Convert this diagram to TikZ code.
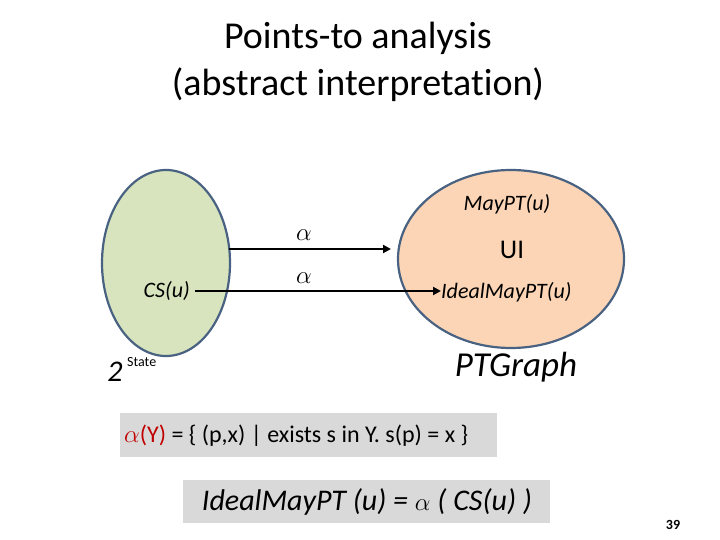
\documentclass[tikz,border=0pt]{standalone}
\usepackage{fontspec}
\setmainfont{Carlito}[Ligatures=NoCommon]
\newfontfamily\hand{Carlito}[Ligatures=NoCommon]
\usetikzlibrary{shapes.geometric,arrows.meta}
\definecolor{greenfill}{HTML}{D7E4BD}
\definecolor{orangefill}{HTML}{FBD5B5}
\definecolor{edgeblue}{HTML}{4A6282}
\definecolor{boxgray}{HTML}{D9D9D9}
\definecolor{alphared}{HTML}{C00000}
\tikzset{
  setshape/.style={ellipse, draw=edgeblue, line width=2.2pt, inner sep=0pt},
  conn/.style={line width=2.6pt, -{Triangle[length=8pt,width=8pt]}},
  handtxt/.style={font=\hand\itshape\fontsize{22}{24}\selectfont, inner sep=0pt},
  graybox/.style={fill=boxgray, inner sep=0pt, anchor=north west},
}
\begin{document}
\begin{tikzpicture}[x=1pt,y=-1pt]
\useasboundingbox (0,0) rectangle (720,540);
% title
\node (title) at (358,62) [align=center, font=\fontsize{38}{47}\selectfont] {Points-to analysis\\(abstract interpretation)};
% ellipses
\node (green) [setshape, fill=greenfill, minimum width=128pt, minimum height=186pt] at (166,263) {};
\node (orange) [setshape, fill=orangefill, minimum width=226pt, minimum height=178pt] at (511,259) {};
% texts
\node (cs) [handtxt, anchor=east] at (190,291) {CS(u)};
\node (may) [handtxt] at (507,204) {MayPT(u)};
\node (sub) [inner sep=0pt, font=\fontsize{27}{28}\selectfont] at (512,250) {UI};
\node (ideal) [handtxt, anchor=west] at (441,292) {IdealMayPT(u)};
\node (two) [inner sep=0pt, font=\hand\itshape\fontsize{30}{30}\selectfont] at (115,372) {2};
\node (state) [inner sep=0pt, anchor=west, font=\fontsize{14}{14}\selectfont] at (127,362) {State};
\node (ptg) [inner sep=0pt, font=\hand\itshape\fontsize{35}{35}\selectfont] at (516,367) {PTGraph};
% alphas
\node (a1) [inner sep=0pt, font=\fontsize{28}{28}\selectfont] at (304,235) {$\alpha$};
\node (a2) [inner sep=0pt, font=\fontsize{28}{28}\selectfont] at (304,278) {$\alpha$};
% arrows
\coordinate (t1) at (229,249);
\coordinate (t2) at (391,249);
\draw[conn] (t1) -- (t2);
\draw[conn] (cs.east) ++(5pt,0) coordinate (c1) -- (ideal.west |- c1) coordinate (c2);
% gray boxes
\node (box1) [graybox, minimum width=377pt, minimum height=44pt] at (120,413) {};
\node (f1) [anchor=west, inner sep=0pt, font=\fontsize{24}{26}\selectfont] at (124,436) {\textcolor{alphared}{$\alpha$(Y)} = \{ (p,x) | exists s in Y. s(p) = x \}};
\node (box2) [graybox, minimum width=367pt, minimum height=43pt] at (183,480) {};
\node (f2) [inner sep=0pt, font=\hand\itshape\fontsize{30}{32}\selectfont] at (367,502) {IdealMayPT (u) = $\alpha$ ( CS(u) )};
% page number
\node (pg) [inner sep=0pt, font=\bfseries\fontsize{14}{14}\selectfont] at (673,525) {39};
\end{tikzpicture}
\end{document}
